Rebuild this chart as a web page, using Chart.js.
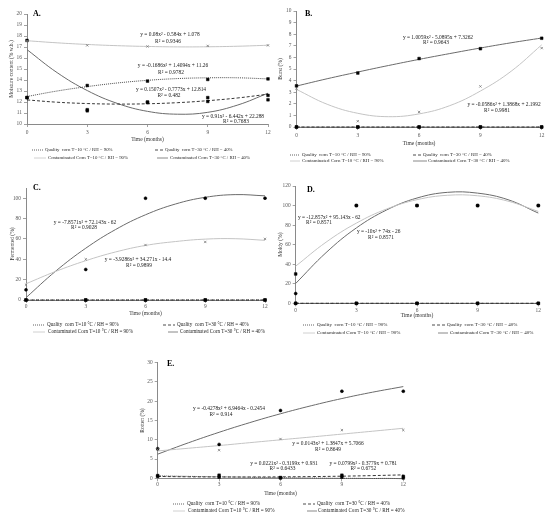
<!DOCTYPE html>
<html><head><meta charset="utf-8">
<script src="https://cdn.jsdelivr.net/npm/chart.js@4.4.1/dist/chart.umd.min.js"></script>
<style>
html,body{margin:0;padding:0;background:#fff;}
body{width:550px;height:520px;position:relative;overflow:hidden;}
.p{position:absolute;}
canvas{display:block;}
</style></head><body>
<div class="p" style="left:0px;top:0px"><canvas id="cA" width="275" height="170"></canvas></div>
<div class="p" style="left:275px;top:0px"><canvas id="cB" width="275" height="170"></canvas></div>
<div class="p" style="left:0px;top:170px"><canvas id="cC" width="275" height="170"></canvas></div>
<div class="p" style="left:275px;top:170px"><canvas id="cD" width="275" height="170"></canvas></div>
<div class="p" style="left:90px;top:340px"><canvas id="cE" width="370" height="180"></canvas></div>
<script>
// ---------- shared data ----------
const X_TICKS = [0, 3, 6, 9, 12];
const OBS_MONTHS = [0, 3, 6, 9, 12];
const FIT_MONTHS = [0, 1.5, 3, 4.5, 6, 7.5, 9, 10.5, 12];
const LEGEND_LABELS = [
  "Quality  corn T=10 °C / RH = 90%",
  "Quality  corn T=30 °C / RH = 40%",
  "Contaminated Corn T=10 °C / RH = 90%",
  "Contaminated Corn T=30 °C / RH = 40%"
];
const X_TITLE = "Time (months)";

// ---------- A: moisture content ----------
const A_Y_TICKS = [10, 11, 12, 13, 14, 15, 16, 17, 18, 19, 20];
const A_FIT_QC10 = [12.5, 13.0, 13.4, 13.73, 13.97, 14.13, 14.2, 14.2, 14.1];
const A_FIT_QC30 = [12.19, 11.98, 11.86, 11.81, 11.84, 11.94, 12.12, 12.37, 12.71];
const A_FIT_CC10 = [17.57, 17.38, 17.23, 17.12, 17.05, 17.01, 17.02, 17.07, 17.16];
const A_FIT_CC30 = [16.76, 14.67, 13.04, 11.87, 11.15, 10.89, 11.06, 11.73, 12.8];
const A_OBS_QC10 = [12.4, 13.5, 13.9, 14.05, 14.1];
const A_OBS_QC30 = [12.4, 11.2, 11.95, 12.05, 12.2];
const A_OBS_CC10 = [17.55, 17.15, 17.05, 17.1, 17.15];
const A_OBS_CC30 = [17.6, 11.3, 12.0, 12.4, 12.6];
const A_NOTES = [
  ["y = 0.08x² - 0.584x + 1.078", 170, 35], ["R² = 0.9346", 168, 41.7],
  ["y = -0.1686x² + 1.4094x + 11.26", 173, 66], ["R² = 0.9782", 171, 72.3],
  ["y = 0.1507x² - 0.7773x + 12.814", 171, 89.3], ["R² = 0.482", 169, 95.3],
  ["y = 0.91x² - 6.442x + 22.288", 233, 116.7], ["R² = 0.7683", 236, 122]
];

// ---------- B: burst ----------
const B_Y_TICKS = [0, 1, 2, 3, 4, 5, 6, 7, 8, 9, 10];
const B_FIT_QC10 = [0, 0, 0, 0, 0, 0, 0, 0, 0];
const B_FIT_QC30 = [0, 0, 0, 0, 0, 0, 0, 0, 0];
const B_FIT_CC10 = [3.24, 1.96, 1.18, 0.89, 1.13, 1.84, 3.1, 4.8, 7.08];
const B_FIT_CC30 = [3.53, 4.16, 4.74, 5.3, 5.83, 6.33, 6.81, 7.26, 7.67];
const B_OBS_QC10 = [0, 0, 0, 0, 0];
const B_OBS_QC30 = [0, 0, 0, 0, 0];
const B_OBS_CC10 = [3.3, 0.5, 1.3, 3.5, 6.8];
const B_OBS_CC30 = [3.55, 4.65, 5.9, 6.75, 7.65];
const B_NOTES = [
  ["y = 1.0059x² - 5.0895x + 7.3262", 163, 37.3], ["R² = 0.9643", 161, 42.7],
  ["y = -0.0586x² + 1.3868x + 2.1992", 229, 105], ["R² = 0.9981", 222, 111]
];

// ---------- C: fermented ----------
const C_Y_TICKS = [0, 20, 40, 60, 80, 100];
const C_FIT_QC10 = [0, 0, 0, 0, 0, 0, 0, 0, 0];
const C_FIT_QC30 = [0, 0, 0, 0, 0, 0, 0, 0, 0];
const C_FIT_CC10 = [15.94, 28.16, 38.6, 47.2, 53.6, 57.4, 59.8, 60.2, 58.6];
const C_FIT_CC30 = [2.29, 28.5, 50.86, 69.25, 83.7, 94.25, 100.86, 103.5, 102.3];
const C_OBS_QC10 = [0, 0, 0, 0, 0];
const C_OBS_QC30 = [0, 0, 0, 0, 0];
const C_OBS_CC10 = [15, 40, 54, 57, 60];
const C_OBS_CC30 = [10, 30, 100, 100, 100];
const C_NOTES = [
  ["y = -7.8571x² + 72.143x - 62", 85, 52.3], ["R² = 0.9028", 84, 57.3],
  ["y = -3.9286x² + 34.271x - 14.4", 138, 90], ["R² = 0.9899", 139, 95.7]
];

// ---------- D: moldy ----------
const D_Y_TICKS = [0, 20, 40, 60, 80, 100, 120];
const D_FIT_QC10 = [0, 0, 0, 0, 0, 0, 0, 0, 0];
const D_FIT_QC30 = [0, 0, 0, 0, 0, 0, 0, 0, 0];
const D_FIT_CC10 = [38, 62.5, 82, 96.5, 106, 110.5, 110, 104.5, 94];
const D_FIT_CC30 = [20.3, 51.8, 77.1, 95.5, 107.7, 113.5, 112.7, 106.0, 92.3];
const D_OBS_QC10 = [0, 0, 0, 0, 0];
const D_OBS_QC30 = [0, 0, 0, 0, 0];
const D_OBS_CC10 = [30, 100, 100, 100, 100];
const D_OBS_CC30 = [10, 100, 100, 100, 100];
const D_NOTES = [
  ["y = -12.857x² + 95.143x - 62", 54.3, 47.7], ["R² = 0.8571", 44, 52.7],
  ["y = -10x² + 74x - 26", 103.7, 61.7], ["R² = 0.8571", 106, 67.7]
];

// ---------- E: rotten ----------
const E_Y_TICKS = [0, 5, 10, 15, 20, 25, 30];
const E_FIT_QC10 = [0.63, 0.5, 0.38, 0.27, 0.17, 0.08, 0.01, -0.06, -0.12];
const E_FIT_QC30 = [0.48, 0.39, 0.35, 0.34, 0.37, 0.44, 0.55, 0.7, 0.89];
const E_FIT_CC10 = [7.1, 7.8, 8.5, 9.25, 9.99, 10.72, 11.47, 12.22, 12.98];
const E_FIT_CC30 = [6.27, 9.21, 11.94, 14.45, 16.75, 18.83, 20.7, 22.35, 23.8];
const E_OBS_QC10 = [0.5, 0.3, 0.1, 0.3, 0.1];
const E_OBS_QC30 = [0.7, 0.8, 0.2, 0.8, 0.5];
const E_OBS_CC10 = [7.5, 7.3, 10.2, 12.5, 12.5];
const E_OBS_CC30 = [7.7, 8.8, 17.6, 22.6, 22.6];
const E_NOTES = [
  ["y = -0.4278x² + 6.9464x - 0.2454", 139, 68.7], ["R² = 0.914", 131, 74.7],
  ["y = 0.0143x² + 1.3847x + 5.7066", 238, 104], ["R² = 0.8649", 238, 109.3],
  ["y = 0.0221x² - 0.3199x + 0.931", 194, 123.3], ["R² = 0.6433", 192.5, 128.7],
  ["y = 0.0799x² - 0.3779x + 0.781", 273.3, 123.3], ["R² = 0.6752", 273.3, 128.7]
];

// ---------- styles ----------
const FONT = '"Liberation Serif", "Times New Roman", serif';
const SERIES_STYLE = [
  {color: '#3a3a3a', dash: [1, 1], width: 0.9},
  {color: '#1f1f1f', dash: [3, 2], width: 0.9},
  {color: '#c4c4c4', dash: [], width: 1},
  {color: '#6b6b6b', dash: [], width: 1}
];
const MARK = {
  sq:   {shape: 'rect', r: 1.9, fill: '#000', stroke: '#000', bw: 0.5},
  x:    {shape: 'crossRot', r: 1.6, fill: '#777', stroke: '#777', bw: 0.8},
  dot:  {shape: 'circle', r: 1.5, fill: '#000', stroke: '#000', bw: 0.5}
};

function fitSet(vals, i) {
  const st = SERIES_STYLE[i];
  return {
    data: FIT_MONTHS.map((m, k) => ({x: m, y: vals[k]})),
    showLine: true, borderColor: st.color, borderWidth: st.width, borderDash: st.dash,
    pointRadius: 0, tension: 0.4, fill: false, clip: false, order: 2
  };
}
function obsSet(vals, mk) {
  return {
    data: OBS_MONTHS.map((m, k) => ({x: m, y: vals[k]})),
    showLine: false, pointStyle: mk.shape, pointRadius: mk.r,
    backgroundColor: mk.fill, borderColor: mk.stroke, borderWidth: mk.bw, clip: false, order: 1
  };
}

const overlay = {
  id: 'overlay',
  afterDraw(chart, args, o) {
    const ctx = chart.ctx;
    ctx.save();
    ctx.textBaseline = 'middle';
    ctx.font = 'bold 8px ' + FONT; ctx.fillStyle = '#000'; ctx.textAlign = 'left';
    ctx.fillText(o.letter, o.letterPos[0], o.letterPos[1]);
    ctx.font = o.noteSize + 'px ' + FONT; ctx.fillStyle = '#1a1a1a'; ctx.textAlign = 'center';
    o.notes.forEach(n => ctx.fillText(n[0], n[1], n[2]));
    ctx.font = o.legendSize + 'px ' + FONT; ctx.textAlign = 'left';
    o.legend.forEach((e, i) => {
      const st = SERIES_STYLE[i];
      ctx.strokeStyle = st.color; ctx.lineWidth = 0.8; ctx.setLineDash(st.dash);
      ctx.beginPath(); ctx.moveTo(e[0], e[3]); ctx.lineTo(e[1], e[3]); ctx.stroke();
      ctx.setLineDash([]);
      ctx.fillStyle = '#262626';
      ctx.fillText(LEGEND_LABELS[i], e[2], e[3]);
    });
    ctx.restore();
  }
};

function makePanel(id, p) {
  const tickFont = {family: FONT, size: p.tickSize || 5.4};
  new Chart(document.getElementById(id), {
    type: 'scatter',
    data: {datasets: p.datasets},
    options: {
      responsive: false, animation: false,
      layout: {padding: p.pad},
      plugins: {legend: {display: false}, tooltip: {enabled: false}, overlay: p.overlay},
      scales: {
        x: {
          type: 'linear', min: 0, max: 12,
          afterBuildTicks: s => { s.ticks = X_TICKS.map(v => ({value: v})); },
          afterFit: s => { s.height = p.hx; },
          ticks: {font: tickFont, color: '#595959', padding: p.xtp, maxRotation: 0, autoSkip: false},
          grid: {drawOnChartArea: false, tickLength: 3, color: '#8a8a8a', lineWidth: 0.8},
          border: {color: '#8a8a8a', width: 1},
          title: {display: true, text: X_TITLE, font: {family: FONT, size: 5.5}, color: '#333', padding: 0}
        },
        y: {
          type: 'linear', min: p.ymin, max: p.ymax,
          afterBuildTicks: s => { s.ticks = p.yticks.map(v => ({value: v})); },
          afterFit: s => { s.width = p.wy; },
          ticks: {font: tickFont, color: '#595959', padding: 2},
          grid: {drawOnChartArea: false, tickLength: 3, color: '#8a8a8a', lineWidth: 0.8},
          border: {color: '#8a8a8a', width: 1},
          title: {display: true, text: p.ytitle, font: {family: FONT, size: 5.5}, color: '#333', padding: {top: p.ytp, bottom: 0}}
        }
      }
    },
    plugins: [overlay]
  });
}

// A
makePanel('cA', {
  datasets: [
    fitSet(A_FIT_QC10, 0), fitSet(A_FIT_QC30, 1), fitSet(A_FIT_CC10, 2), fitSet(A_FIT_CC30, 3),
    obsSet(A_OBS_QC10, MARK.sq), obsSet(A_OBS_QC30, MARK.sq), obsSet(A_OBS_CC10, MARK.x), obsSet(A_OBS_CC30, MARK.sq)
  ],
  pad: {left: 7, right: 7, top: 14, bottom: 27}, wy: 20, hx: 19, xtp: 2, ytp: 1,
  ymin: 10, ymax: 20, yticks: A_Y_TICKS, ytitle: 'Moisture content (% w.b.)',
  overlay: {letter: 'A.', letterPos: [33, 14], notes: A_NOTES, noteSize: 5.4, legendSize: 4.8,
    legend: [[32, 43, 45, 150], [155, 163, 165, 150], [34, 46, 48, 158], [157, 168, 170, 158]]}
});
// B
makePanel('cB', {
  datasets: [
    fitSet(B_FIT_QC10, 0), fitSet(B_FIT_QC30, 1), fitSet(B_FIT_CC10, 2), fitSet(B_FIT_CC30, 3),
    obsSet(B_OBS_QC10, MARK.sq), obsSet(B_OBS_QC30, MARK.sq), obsSet(B_OBS_CC10, MARK.x), obsSet(B_OBS_CC30, MARK.sq)
  ],
  pad: {left: 2, right: 8.3, top: 11, bottom: 23}, wy: 19.5, hx: 20, xtp: 2, ytp: 0,
  ymin: 0, ymax: 10, yticks: B_Y_TICKS, ytitle: 'Burst (%)',
  overlay: {letter: 'B.', letterPos: [30, 14], notes: B_NOTES, noteSize: 5.4, legendSize: 4.9,
    legend: [[15, 25, 27, 155], [138, 147, 148, 155], [15, 25, 27, 161], [138, 152, 153, 161]]}
});
// C
makePanel('cC', {
  datasets: [
    fitSet(C_FIT_QC10, 0), fitSet(C_FIT_QC30, 1), fitSet(C_FIT_CC10, 2), fitSet(C_FIT_CC30, 3),
    obsSet(C_OBS_QC10, MARK.sq), obsSet(C_OBS_QC30, MARK.sq), obsSet(C_OBS_CC10, MARK.x), obsSet(C_OBS_CC30, MARK.dot)
  ],
  pad: {left: 6, right: 10, top: 18, bottom: 23}, wy: 20, hx: 17, xtp: 0, ytp: 3,
  ymin: 0, ymax: 110, yticks: C_Y_TICKS, ytitle: 'Fermented (%)',
  overlay: {letter: 'C.', letterPos: [33, 18.3], notes: C_NOTES, noteSize: 5.4, legendSize: 5.1,
    legend: [[33, 45, 47, 155], [163, 175, 177, 155], [33, 45, 48, 162], [168, 178, 180, 162]]}
});
// D
makePanel('cD', {
  datasets: [
    fitSet(D_FIT_QC10, 0), fitSet(D_FIT_QC30, 1), fitSet(D_FIT_CC10, 2), fitSet(D_FIT_CC30, 3),
    obsSet(D_OBS_QC10, MARK.sq), obsSet(D_OBS_QC30, MARK.sq), obsSet(D_OBS_CC10, MARK.sq), obsSet(D_OBS_CC30, MARK.dot)
  ],
  pad: {left: 2, right: 11.7, top: 16, bottom: 21}, wy: 18.7, hx: 15.7, xtp: 1, ytp: 0.7,
  ymin: 0, ymax: 120, yticks: D_Y_TICKS, ytitle: 'Moldy (%)',
  overlay: {letter: 'D.', letterPos: [32, 20], notes: D_NOTES, noteSize: 5.4, legendSize: 5.0,
    legend: [[28, 40, 42, 155], [157, 170, 172, 155], [28, 40, 42, 163], [163, 173, 175, 163]]}
});
// E
makePanel('cE', {
  datasets: [
    fitSet(E_FIT_QC10, 0), fitSet(E_FIT_QC30, 1), fitSet(E_FIT_CC10, 2), fitSet(E_FIT_CC30, 3),
    obsSet(E_OBS_QC10, MARK.sq), obsSet(E_OBS_QC30, MARK.sq), obsSet(E_OBS_CC10, MARK.x), obsSet(E_OBS_CC30, MARK.dot)
  ],
  pad: {left: 47.7, right: 56.7, top: 22.7, bottom: 23}, wy: 20, hx: 18.7, xtp: 0.5, ytp: 2,
  ymin: 0, ymax: 30, yticks: E_Y_TICKS, ytitle: 'Rotten (%)',
  overlay: {letter: 'E.', letterPos: [77, 24], notes: E_NOTES, noteSize: 5.4, legendSize: 5.2,
    legend: [[83, 95, 97, 164], [213, 225, 227, 164], [83, 95, 98, 171], [217, 227, 228, 171]]}
});
</script>
</body></html>
